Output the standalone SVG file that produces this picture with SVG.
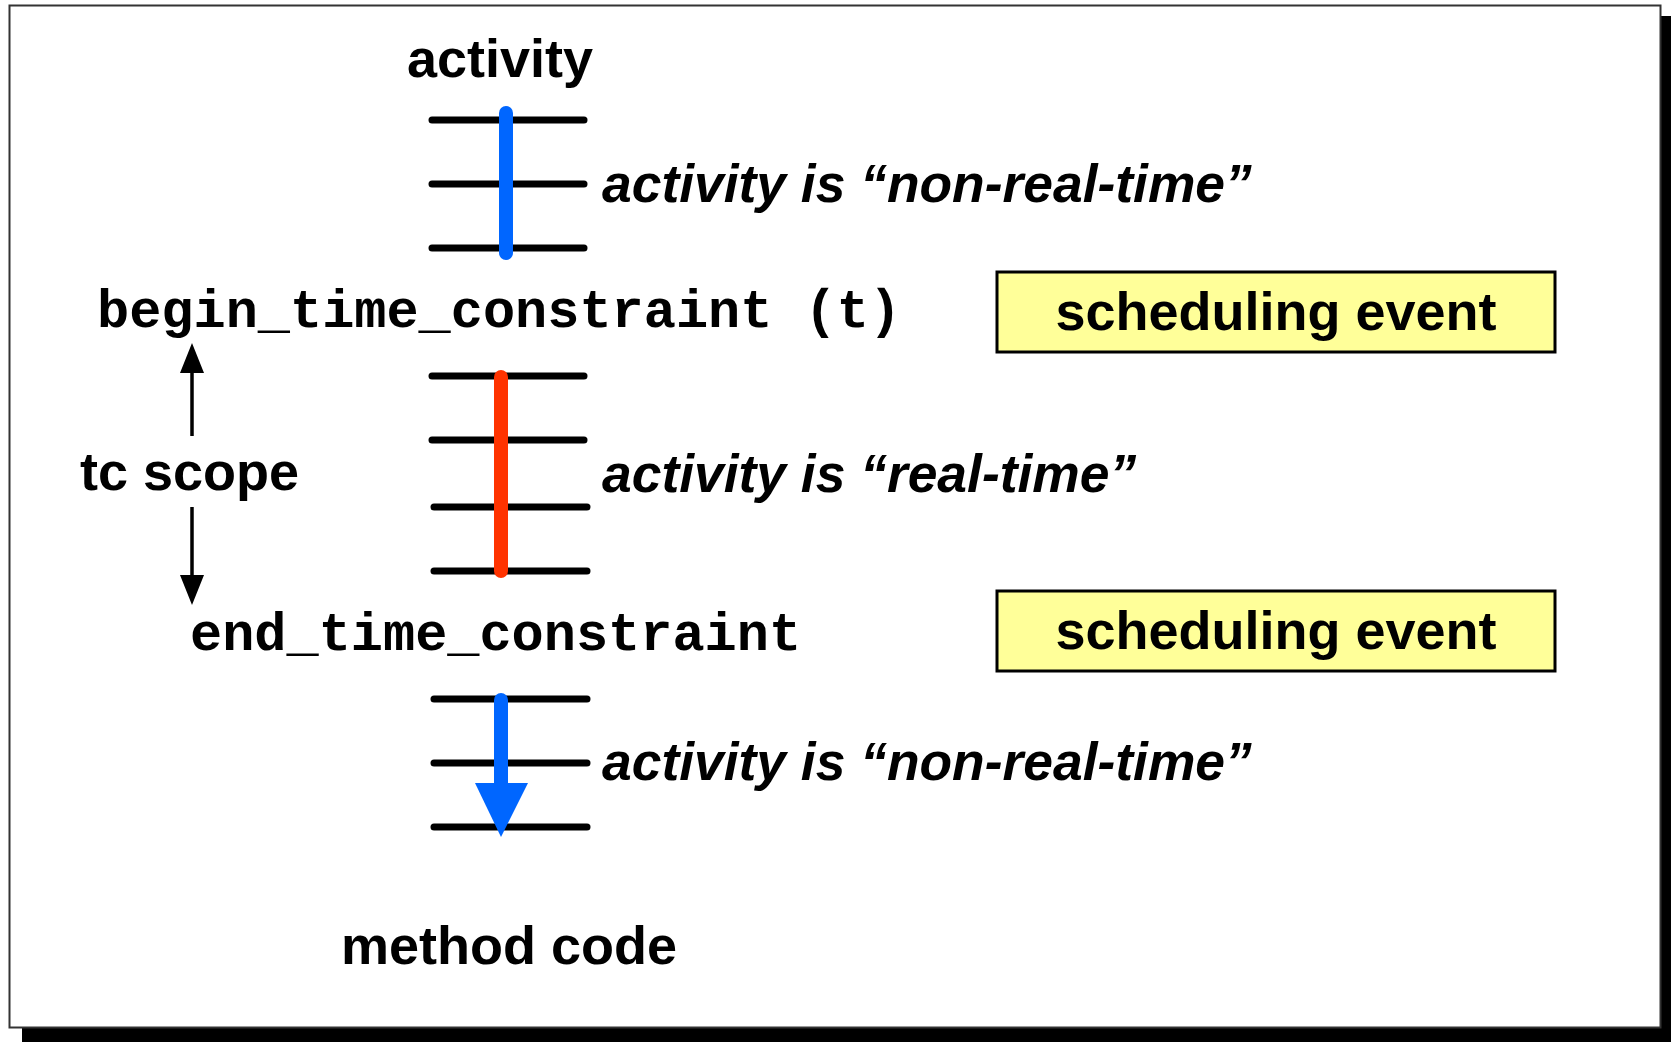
<svg xmlns="http://www.w3.org/2000/svg" width="1671" height="1042" viewBox="0 0 1671 1042">
<style>
.b{font-family:"Liberation Sans",Arial,sans-serif;font-weight:bold;font-size:54px;fill:#000}
.i{font-family:"Liberation Sans",Arial,sans-serif;font-weight:bold;font-style:italic;font-size:53.4px;fill:#000}
.m{font-family:"Liberation Mono","Courier New",monospace;font-weight:bold;font-size:53.6px;fill:#000}
.rung{stroke:#000;stroke-width:7;stroke-linecap:round}
.box{fill:#FFFF99;stroke:#000;stroke-width:3}
</style>
<defs>
<marker id="ah" markerWidth="30" markerHeight="24" refX="0" refY="12" orient="auto" markerUnits="userSpaceOnUse" viewBox="0 0 30 24">
<path d="M0,0 L30,12 L0,24 Z" fill="#000"/>
</marker>
</defs>
<rect x="22" y="16" width="1649" height="1026" fill="#000"/>
<rect x="9.5" y="5.5" width="1651" height="1022" fill="#fff" stroke="#333" stroke-width="2"/>

<g id="activity-title"><text class="b" x="500" y="77" text-anchor="middle">activity</text></g>

<g id="ladder1">
<line class="rung" x1="432" y1="120" x2="584" y2="120"/>
<line class="rung" x1="432" y1="184" x2="584" y2="184"/>
<line class="rung" x1="432" y1="248" x2="584" y2="248"/>
<line x1="506" y1="113" x2="506" y2="253" stroke="#0066FF" stroke-width="14" stroke-linecap="round"/>
<text class="i" x="602" y="202">activity is “non-real-time”</text>
</g>

<g id="begin"><text class="m" x="97" y="327">begin_time_constraint (t)</text></g>

<g id="event1">
<rect class="box" x="997" y="272" width="558" height="80"/>
<text class="b" x="1276" y="330" text-anchor="middle">scheduling event</text>
</g>

<g id="tcscope"><text class="b" x="80" y="490">tc scope</text></g>

<g id="ladder2">
<line class="rung" x1="432" y1="376" x2="584" y2="376"/>
<line class="rung" x1="432" y1="440" x2="584" y2="440"/>
<line class="rung" x1="434" y1="507" x2="587" y2="507"/>
<line class="rung" x1="434" y1="571" x2="587" y2="571"/>
<line x1="501" y1="377" x2="501" y2="571" stroke="#FF3300" stroke-width="14" stroke-linecap="round"/>
<text class="i" x="602" y="492">activity is “real-time”</text>
</g>

<g id="end"><text class="m" x="190" y="650">end_time_constraint</text></g>

<g id="event2">
<rect class="box" x="997" y="591" width="558" height="80"/>
<text class="b" x="1276" y="649" text-anchor="middle">scheduling event</text>
</g>

<g id="ladder3">
<line class="rung" x1="434" y1="699" x2="587" y2="699"/>
<line class="rung" x1="434" y1="763" x2="587" y2="763"/>
<line class="rung" x1="434" y1="827" x2="587" y2="827"/>
<line x1="501" y1="700" x2="501" y2="785" stroke="#0066FF" stroke-width="14" stroke-linecap="round"/>
<path d="M475,783 L528,783 L501,837 Z" fill="#0066FF"/>
<text class="i" x="602" y="780">activity is “non-real-time”</text>
</g>

<g id="method"><text class="b" x="341" y="964">method code</text></g>

<g id="connectors">
<line x1="192" y1="436" x2="192" y2="373" stroke="#000" stroke-width="3.5" marker-end="url(#ah)"/>
<line x1="192" y1="507" x2="192" y2="575" stroke="#000" stroke-width="3.5" marker-end="url(#ah)"/>
</g>
</svg>
